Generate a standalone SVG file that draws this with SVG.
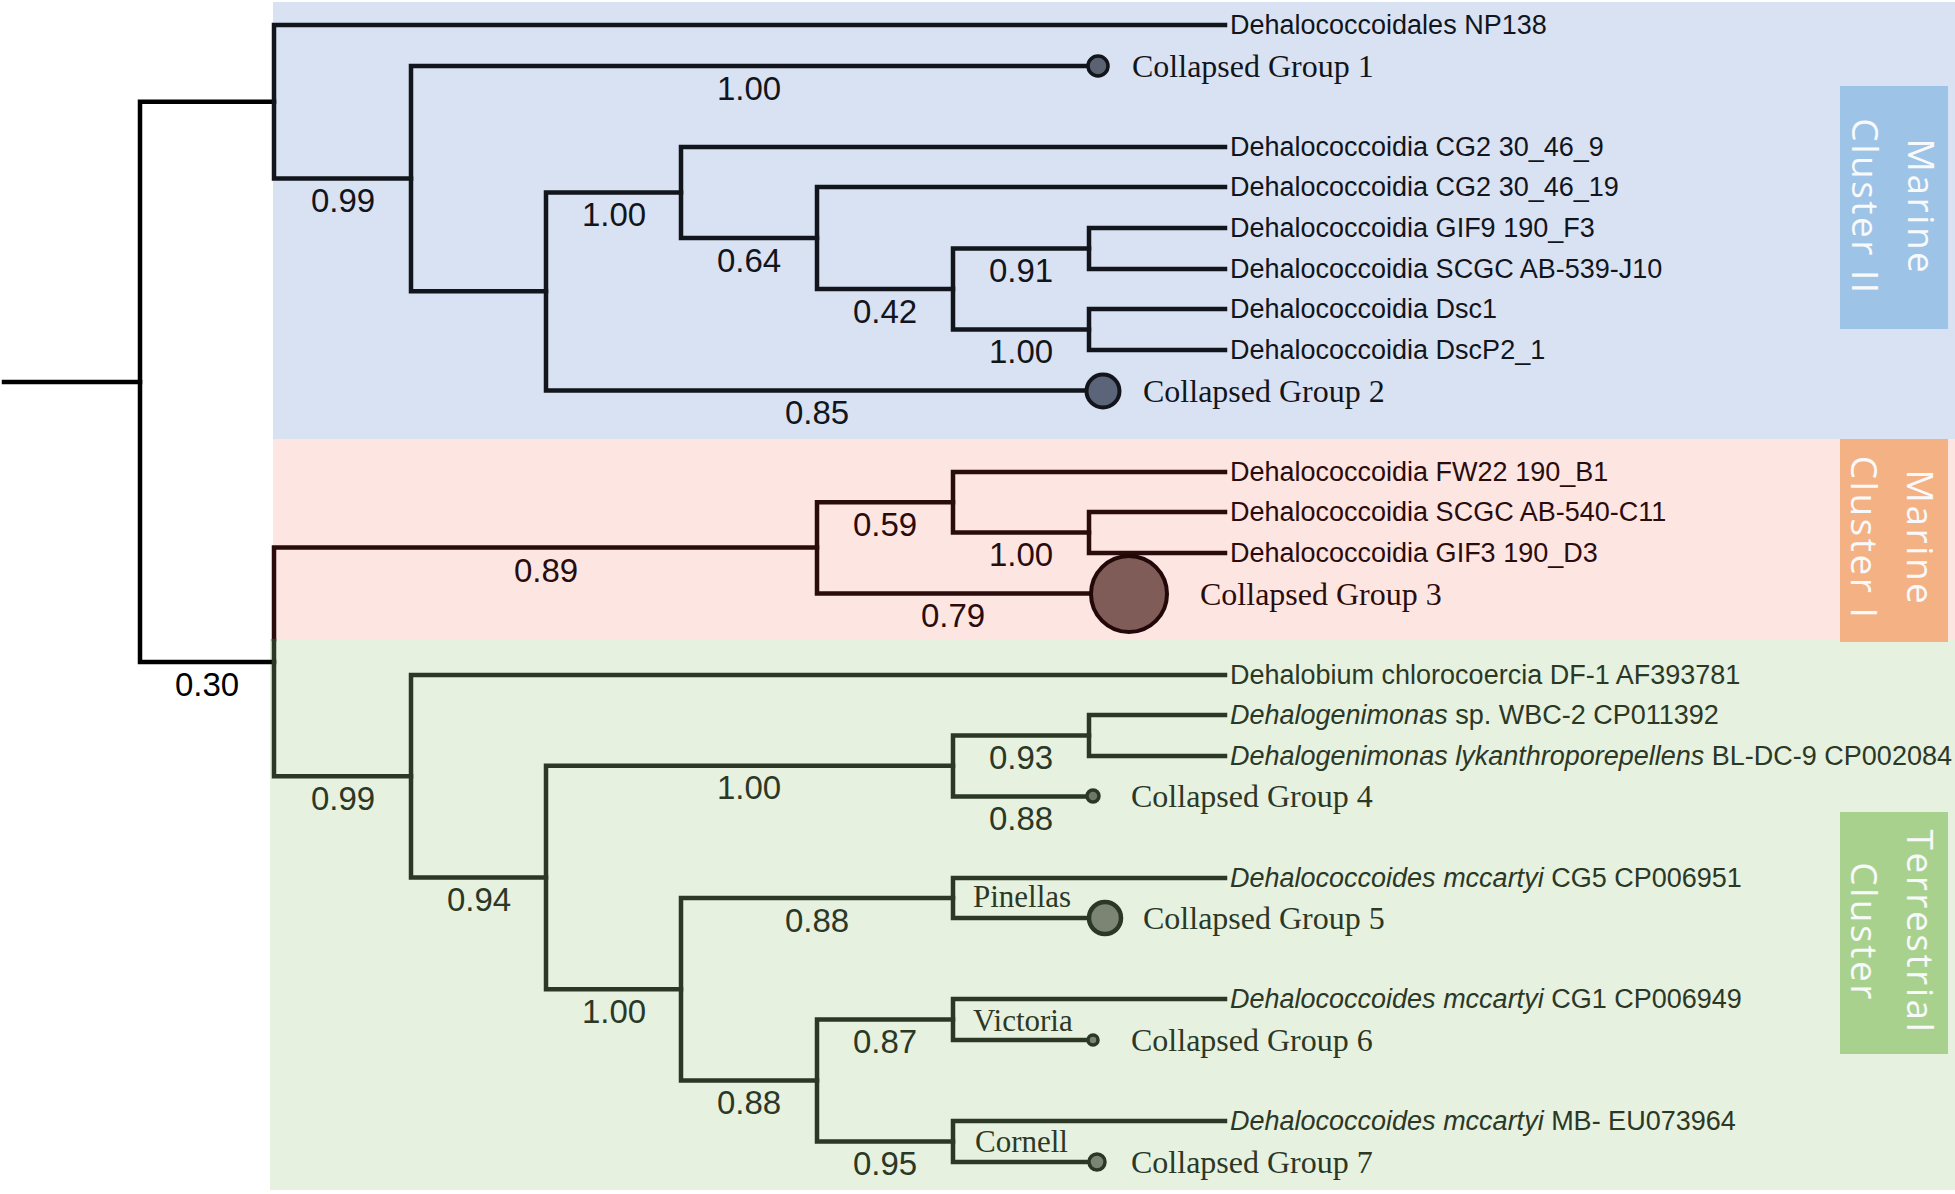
<svg xmlns="http://www.w3.org/2000/svg" width="1955" height="1194" viewBox="0 0 1955 1194">
<style>
.br{fill:none;stroke-width:4.5;stroke-linejoin:miter;stroke-linecap:square}
.bk{stroke:#000}
.bl{stroke:#12151b}
.pk{stroke:#2a0c0c}
.gn{stroke:#2c3826}
.leaf{font-family:"Liberation Sans",Arial,sans-serif;font-size:27px}
.sup{font-family:"Liberation Sans",Arial,sans-serif;font-size:33px;text-anchor:middle}
.cg{font-family:"Liberation Serif","Times New Roman",serif;font-size:32px}
.tag{font-family:"Liberation Serif","Times New Roman",serif;font-size:31px}
.box{font-family:"Open Sans","Noto Sans",sans-serif;font-size:37px;fill:#f7f9fb;text-anchor:middle;letter-spacing:2.5px}
.tb{fill:#12151b}.tp{fill:#2a0c0c}.tg{fill:#2c3826}
</style>
<rect width="1955" height="1194" fill="#ffffff"/>
<g id="backgrounds">
<rect x="273" y="2" width="1682" height="437" fill="#d9e2f3"/>
<rect x="273" y="439" width="1682" height="200" fill="#fde5e2"/>
<rect x="270" y="639" width="1685" height="551" fill="#e6f1e0"/>
</g>
<g id="cluster-labels">
<g id="marine-cluster-II">
<rect x="1840" y="86" width="108" height="243" fill="#9dc3e6"/>
<g transform="translate(1880,207) rotate(90)"><text class="box" x="0" y="-28">Marine</text><text class="box" x="0" y="28">Cluster II</text></g>
</g>
<g id="marine-cluster-I">
<rect x="1840" y="439" width="108" height="203" fill="#f4b183"/>
<g transform="translate(1880,538) rotate(90)"><text class="box" x="0" y="-27">Marine</text><text class="box" x="0" y="29">Cluster I</text></g>
</g>
<g id="terrestrial-cluster">
<rect x="1840" y="812" width="108" height="242" fill="#a9d18e"/>
<g transform="translate(1880,932) rotate(90)"><text class="box" x="0" y="-27">Terrestrial</text><text class="box" x="0" y="29">Cluster</text></g>
</g>
</g>
<g id="connectors">
<path class="br bk" d="M4,382 H140"/>
<path class="br bk" d="M274,101.75 H140 V662 H274"/>
<path class="br bl" d="M1225,25 H274 V178.5 H411"/>
<path class="br bl" d="M1086,66 H411 V291.25 H546"/>
<path class="br bl" d="M681,192.5 H546 V390.4 H1086"/>
<path class="br bl" d="M1225,147 H681 V238 H817"/>
<path class="br bl" d="M1225,187 H817 V289 H953"/>
<path class="br bl" d="M1089,248.5 H953 V329.5 H1089"/>
<path class="br bl" d="M1225,228 H1089 V269 H1225"/>
<path class="br bl" d="M1225,309 H1089 V350 H1225"/>
<path class="br pk" d="M817,547.6 H274 V639"/>
<path class="br pk" d="M953,502.25 H817 V593.4 H1090"/>
<path class="br pk" d="M1225,472 H953 V532.5 H1089"/>
<path class="br pk" d="M1225,512 H1089 V553 H1225"/>
<path class="br gn" d="M274,641 V776.25 H411"/>
<path class="br gn" d="M1225,675 H411 V877.5 H546"/>
<path class="br gn" d="M953,765.75 H546 V989.25 H681"/>
<path class="br gn" d="M1089,735.5 H953 V796.4 H1087"/>
<path class="br gn" d="M1225,715 H1089 V756 H1225"/>
<path class="br gn" d="M953,898 H681 V1080.5 H817"/>
<path class="br gn" d="M1225,878 H953 V918 H1089"/>
<path class="br gn" d="M953,1019.5 H817 V1141.5 H953"/>
<path class="br gn" d="M1225,999 H953 V1040 H1088"/>
<path class="br gn" d="M1225,1121 H953 V1162 H1088"/>
</g>
<g id="support-values">
<text class="sup" x="207" y="696" fill="#000">0.30</text>
<text class="sup tb" x="343" y="212">0.99</text>
<text class="sup tb" x="749" y="100">1.00</text>
<text class="sup tb" x="614" y="226">1.00</text>
<text class="sup tb" x="749" y="272">0.64</text>
<text class="sup tb" x="885" y="323">0.42</text>
<text class="sup tb" x="1021" y="282">0.91</text>
<text class="sup tb" x="1021" y="363">1.00</text>
<text class="sup tb" x="817" y="424">0.85</text>
<text class="sup tp" x="546" y="582">0.89</text>
<text class="sup tp" x="885" y="536">0.59</text>
<text class="sup tp" x="1021" y="566">1.00</text>
<text class="sup tp" x="953" y="627">0.79</text>
<text class="sup tg" x="343" y="810">0.99</text>
<text class="sup tg" x="749" y="799">1.00</text>
<text class="sup tg" x="1021" y="769">0.93</text>
<text class="sup tg" x="1021" y="830">0.88</text>
<text class="sup tg" x="479" y="911">0.94</text>
<text class="sup tg" x="614" y="1023">1.00</text>
<text class="sup tg" x="817" y="932">0.88</text>
<text class="sup tg" x="885" y="1053">0.87</text>
<text class="sup tg" x="749" y="1114">0.88</text>
<text class="sup tg" x="885" y="1175">0.95</text>
</g>
<g id="leaf-NP138"><text class="leaf tb" x="1230" y="34">Dehalococcoidales NP138</text></g>
<g id="collapsed-group-1"><circle cx="1098" cy="66" r="10" fill="#5b6272" stroke="#12151b" stroke-width="3.5"/><text class="cg tb" x="1132" y="77">Collapsed Group 1</text></g>
<g id="leaf-CG2-30-46-9"><text class="leaf tb" x="1230" y="156">Dehalococcoidia CG2 30_46_9</text></g>
<g id="leaf-CG2-30-46-19"><text class="leaf tb" x="1230" y="196">Dehalococcoidia CG2 30_46_19</text></g>
<g id="leaf-GIF9"><text class="leaf tb" x="1230" y="237">Dehalococcoidia GIF9 190_F3</text></g>
<g id="leaf-SCGC-539"><text class="leaf tb" x="1230" y="278">Dehalococcoidia SCGC AB-539-J10</text></g>
<g id="leaf-Dsc1"><text class="leaf tb" x="1230" y="318">Dehalococcoidia Dsc1</text></g>
<g id="leaf-DscP2"><text class="leaf tb" x="1230" y="359">Dehalococcoidia DscP2_1</text></g>
<g id="collapsed-group-2"><circle cx="1103" cy="391" r="16.5" fill="#5b6478" stroke="#12151b" stroke-width="4"/><text class="cg tb" x="1143" y="402">Collapsed Group 2</text></g>
<g id="leaf-FW22"><text class="leaf tp" x="1230" y="481">Dehalococcoidia FW22 190_B1</text></g>
<g id="leaf-SCGC-540"><text class="leaf tp" x="1230" y="521">Dehalococcoidia SCGC AB-540-C11</text></g>
<g id="leaf-GIF3"><text class="leaf tp" x="1230" y="562">Dehalococcoidia GIF3 190_D3</text></g>
<g id="collapsed-group-3"><circle cx="1129" cy="594" r="38" fill="#7f5c58" stroke="#220808" stroke-width="4"/><text class="cg tp" x="1200" y="605">Collapsed Group 3</text></g>
<g id="leaf-DF-1"><text class="leaf tg" x="1230" y="684">Dehalobium chlorocoercia DF-1 AF393781</text></g>
<g id="leaf-WBC-2"><text class="leaf tg" x="1230" y="724"><tspan font-style="italic">Dehalogenimonas</tspan> sp. WBC-2 CP011392</text></g>
<g id="leaf-BL-DC-9"><text class="leaf tg" x="1230" y="765"><tspan font-style="italic">Dehalogenimonas lykanthroporepellens</tspan> BL-DC-9 CP002084</text></g>
<g id="collapsed-group-4"><circle cx="1093" cy="796" r="6" fill="#6f7866" stroke="#2c3826" stroke-width="3.5"/><text class="cg tg" x="1131" y="807">Collapsed Group 4</text></g>
<g id="leaf-CG5"><text class="leaf tg" x="1230" y="887"><tspan font-style="italic">Dehalococcoides mccartyi</tspan> CG5 CP006951</text></g>
<g id="tag-Pinellas"><text class="tag tg" x="973" y="907">Pinellas</text></g>
<g id="collapsed-group-5"><circle cx="1105" cy="918" r="16" fill="#7c8474" stroke="#2c3826" stroke-width="4.5"/><text class="cg tg" x="1143" y="929">Collapsed Group 5</text></g>
<g id="leaf-CG1"><text class="leaf tg" x="1230" y="1008"><tspan font-style="italic">Dehalococcoides mccartyi</tspan> CG1 CP006949</text></g>
<g id="tag-Victoria"><text class="tag tg" x="973" y="1031">Victoria</text></g>
<g id="collapsed-group-6"><circle cx="1093" cy="1040" r="5" fill="#7c8474" stroke="#2c3826" stroke-width="3.5"/><text class="cg tg" x="1131" y="1051">Collapsed Group 6</text></g>
<g id="leaf-MB"><text class="leaf tg" x="1230" y="1130"><tspan font-style="italic">Dehalococcoides mccartyi</tspan> MB- EU073964</text></g>
<g id="tag-Cornell"><text class="tag tg" x="975" y="1152">Cornell</text></g>
<g id="collapsed-group-7"><circle cx="1097" cy="1162" r="8" fill="#7c8474" stroke="#2c3826" stroke-width="3.5"/><text class="cg tg" x="1131" y="1173">Collapsed Group 7</text></g>
</svg>
